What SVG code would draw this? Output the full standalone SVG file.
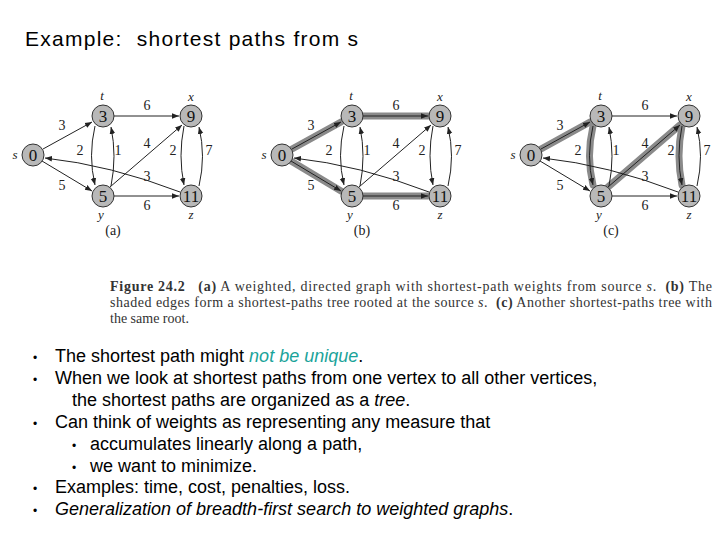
<svg xmlns="http://www.w3.org/2000/svg" width="720" height="540" viewBox="0 0 720 540">
<style>
.n{fill:#b8b8b8;stroke:#333;stroke-width:1}
.nt{font-family:"Liberation Serif",serif;font-size:17px;text-anchor:middle;fill:#111}
.lb{font-family:"Liberation Serif",serif;font-size:14px;fill:#222;text-anchor:middle}
.vl{font-family:"Liberation Serif",serif;font-size:13px;font-style:italic;fill:#222;text-anchor:middle}
.e{fill:none;stroke:#222;stroke-width:1;marker-end:url(#a)}
.sh{fill:none;stroke:#8a8a8a;stroke-width:7;stroke-linecap:round}
.b{font-family:"Liberation Sans",Arial,sans-serif;font-size:18px;fill:#000}
.c{font-family:"Liberation Serif",serif;font-size:14px;fill:#333}
</style>
<defs>
<marker id="a" viewBox="0 0 10 10" refX="10" refY="5" markerWidth="7" markerHeight="7" orient="auto"><path d="M0,1 L10,5 L0,9 z" fill="#222"/></marker>
</defs>
<text x="25" y="46" font-family="Liberation Sans,Arial,sans-serif" font-size="21" xml:space="preserve" textLength="333">Example:  shortest paths from s</text>

<g id="graph-a">
<g id="edges-a">
<line class="e" x1="43" y1="149" x2="92" y2="122"/>
<line class="e" x1="42" y1="161" x2="92" y2="191"/>
<line class="e" x1="114" y1="116" x2="179" y2="116"/>
<path class="e" d="M95,126 Q88,156 95,185"/>
<path class="e" d="M111,186 Q117,156 111,127"/>
<line class="e" x1="110" y1="187" x2="182" y2="125"/>
<line class="e" x1="114" y1="196" x2="179" y2="196"/>
<path class="e" d="M184,126 Q178,156 184,185"/>
<path class="e" d="M199,186 Q206,156 199,127"/>
<path class="e" d="M180,192 Q110,165 45,158"/>
</g>
<text class="lb" x="62" y="130">3</text><text class="lb" x="62" y="190">5</text>
<text class="lb" x="147" y="110">6</text><text class="lb" x="147" y="210">6</text>
<text class="lb" x="80" y="155">2</text><text class="lb" x="118" y="155">1</text>
<text class="lb" x="147" y="148">4</text><text class="lb" x="147" y="181">3</text>
<text class="lb" x="173" y="155">2</text><text class="lb" x="209" y="155">7</text>
<g id="s-a"><circle class="n" cx="33" cy="155" r="11"/><text class="nt" x="33" y="161">0</text><text class="vl" x="15" y="159">s</text></g>
<g id="t-a"><circle class="n" cx="103" cy="116" r="11"/><text class="nt" x="103" y="122">3</text><text class="vl" x="102" y="100">t</text></g>
<g id="x-a"><circle class="n" cx="191" cy="116" r="11"/><text class="nt" x="191" y="122">9</text><text class="vl" x="191" y="101">x</text></g>
<g id="y-a"><circle class="n" cx="103" cy="196" r="11"/><text class="nt" x="103" y="202">5</text><text class="vl" x="101" y="219">y</text></g>
<g id="z-a"><circle class="n" cx="191" cy="196" r="11"/><text class="nt" x="191" y="202">11</text><text class="vl" x="191" y="219">z</text></g>
<text class="lb" x="113" y="235">(a)</text>
</g>

<g id="graph-b" transform="translate(249,0)">
<g id="edges-b">
<line class="sh" x1="43" y1="149" x2="92" y2="122"/>
<line class="sh" x1="42" y1="161" x2="92" y2="191"/>
<line class="sh" x1="114" y1="116" x2="179" y2="116"/>
<line class="sh" x1="114" y1="196" x2="179" y2="196"/>
<line class="e" x1="43" y1="149" x2="92" y2="122"/>
<line class="e" x1="42" y1="161" x2="92" y2="191"/>
<line class="e" x1="114" y1="116" x2="179" y2="116"/>
<path class="e" d="M95,126 Q88,156 95,185"/>
<path class="e" d="M111,186 Q117,156 111,127"/>
<line class="e" x1="110" y1="187" x2="182" y2="125"/>
<line class="e" x1="114" y1="196" x2="179" y2="196"/>
<path class="e" d="M184,126 Q178,156 184,185"/>
<path class="e" d="M199,186 Q206,156 199,127"/>
<path class="e" d="M180,192 Q110,165 45,158"/>
</g>
<text class="lb" x="62" y="130">3</text><text class="lb" x="62" y="190">5</text>
<text class="lb" x="147" y="110">6</text><text class="lb" x="147" y="210">6</text>
<text class="lb" x="80" y="155">2</text><text class="lb" x="118" y="155">1</text>
<text class="lb" x="147" y="148">4</text><text class="lb" x="147" y="181">3</text>
<text class="lb" x="173" y="155">2</text><text class="lb" x="209" y="155">7</text>
<g id="s-b"><circle class="n" cx="33" cy="155" r="11"/><text class="nt" x="33" y="161">0</text><text class="vl" x="15" y="159">s</text></g>
<g id="t-b"><circle class="n" cx="103" cy="116" r="11"/><text class="nt" x="103" y="122">3</text><text class="vl" x="102" y="100">t</text></g>
<g id="x-b"><circle class="n" cx="191" cy="116" r="11"/><text class="nt" x="191" y="122">9</text><text class="vl" x="191" y="101">x</text></g>
<g id="y-b"><circle class="n" cx="103" cy="196" r="11"/><text class="nt" x="103" y="202">5</text><text class="vl" x="101" y="219">y</text></g>
<g id="z-b"><circle class="n" cx="191" cy="196" r="11"/><text class="nt" x="191" y="202">11</text><text class="vl" x="191" y="219">z</text></g>
<text class="lb" x="113" y="235">(b)</text>
</g>

<g id="graph-c" transform="translate(498,0)">
<g id="edges-c">
<line class="sh" x1="43" y1="149" x2="92" y2="122"/>
<path class="sh" d="M95,126 Q88,156 95,185"/>
<line class="sh" x1="110" y1="187" x2="182" y2="125"/>
<path class="sh" d="M184,126 Q178,156 184,185"/>
<line class="e" x1="43" y1="149" x2="92" y2="122"/>
<line class="e" x1="42" y1="161" x2="92" y2="191"/>
<line class="e" x1="114" y1="116" x2="179" y2="116"/>
<path class="e" d="M95,126 Q88,156 95,185"/>
<path class="e" d="M111,186 Q117,156 111,127"/>
<line class="e" x1="110" y1="187" x2="182" y2="125"/>
<line class="e" x1="114" y1="196" x2="179" y2="196"/>
<path class="e" d="M184,126 Q178,156 184,185"/>
<path class="e" d="M199,186 Q206,156 199,127"/>
<path class="e" d="M180,192 Q110,165 45,158"/>
</g>
<text class="lb" x="62" y="130">3</text><text class="lb" x="62" y="190">5</text>
<text class="lb" x="147" y="110">6</text><text class="lb" x="147" y="210">6</text>
<text class="lb" x="80" y="155">2</text><text class="lb" x="118" y="155">1</text>
<text class="lb" x="147" y="148">4</text><text class="lb" x="147" y="181">3</text>
<text class="lb" x="173" y="155">2</text><text class="lb" x="209" y="155">7</text>
<g id="s-c"><circle class="n" cx="33" cy="155" r="11"/><text class="nt" x="33" y="161">0</text><text class="vl" x="15" y="159">s</text></g>
<g id="t-c"><circle class="n" cx="103" cy="116" r="11"/><text class="nt" x="103" y="122">3</text><text class="vl" x="102" y="100">t</text></g>
<g id="x-c"><circle class="n" cx="191" cy="116" r="11"/><text class="nt" x="191" y="122">9</text><text class="vl" x="191" y="101">x</text></g>
<g id="y-c"><circle class="n" cx="103" cy="196" r="11"/><text class="nt" x="103" y="202">5</text><text class="vl" x="101" y="219">y</text></g>
<g id="z-c"><circle class="n" cx="191" cy="196" r="11"/><text class="nt" x="191" y="202">11</text><text class="vl" x="191" y="219">z</text></g>
<text class="lb" x="113" y="235">(c)</text>
</g>

<text class="c" x="110" y="291" textLength="602" xml:space="preserve"><tspan font-weight="bold">Figure 24.2</tspan>   <tspan font-weight="bold">(a)</tspan> A weighted, directed graph with shortest-path weights from source <tspan font-style="italic">s</tspan>.  <tspan font-weight="bold">(b)</tspan> The</text>
<text class="c" x="110" y="307" textLength="602" xml:space="preserve">shaded edges form a shortest-paths tree rooted at the source <tspan font-style="italic">s</tspan>.  <tspan font-weight="bold">(c)</tspan> Another shortest-paths tree with</text>
<text class="c" x="110" y="323">the same root.</text>

<g class="b">
<text x="33" y="362" font-size="12">•</text><text x="55" y="362">The shortest path might <tspan fill="#1aa39a" font-style="italic">not be unique</tspan>.</text>
<text x="33" y="384" font-size="12">•</text><text x="55" y="384">When we look at shortest paths from one vertex to all other vertices,</text>
<text x="72" y="406">the shortest paths are organized as a <tspan font-style="italic">tree</tspan>.</text>
<text x="33" y="428" font-size="12">•</text><text x="55" y="428">Can think of weights as representing any measure that</text>
<text x="72" y="450" font-size="12">•</text><text x="90" y="450">accumulates linearly along a path,</text>
<text x="72" y="472" font-size="12">•</text><text x="90" y="472">we want to minimize.</text>
<text x="33" y="493" font-size="12">•</text><text x="55" y="493">Examples: time, cost, penalties, loss.</text>
<text x="33" y="515" font-size="12">•</text><text x="55" y="515" font-style="italic">Generalization of breadth-first search to weighted graphs<tspan font-style="normal">.</tspan></text>
</g>
</svg>
